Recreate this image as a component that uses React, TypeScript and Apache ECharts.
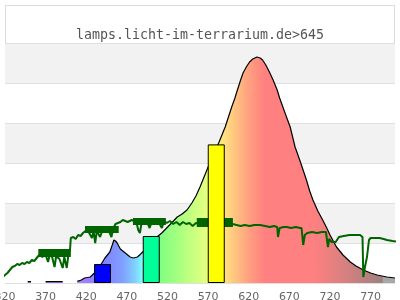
import React, { useEffect, useRef } from "react";
import * as echarts from "echarts";

const TITLE = "lamps.licht-im-terrarium.de>645";

// Lamp spectrum curve (wavelength nm, relative value; null = no line)
const curveNm = [346, 348, 352, 354, 368, 370, 380, 391, 393, 407, 409, 414, 418, 425, 430, 437, 443, 449, 452, 454, 456, 458, 462, 468, 474, 478, 483, 487, 492, 499, 507, 513, 519, 525, 532, 538, 544, 550, 555, 560, 566, 572, 577, 583, 587, 591, 595, 599, 603, 606, 610, 613, 617, 621, 625, 630, 634, 637, 641, 646, 650, 655, 658, 662, 666, 671, 674, 677, 684, 691, 695, 699, 705, 711, 716, 720, 724, 728, 736, 745, 752, 761, 770, 778, 790, 800];
const curveVal: (number | null)[] = [null, 0.7, 0.7, null, null, 0.7, 0.7, 0.7, null, null, 0.8, 1.5, 2.5, 3, 5, 8.5, 12.5, 15.5, 19, 21.5, 21, 20, 17, 15, 13, 12.5, 13, 14.5, 16.5, 20, 23, 25, 27.5, 30, 33, 34.5, 36.5, 40, 43.5, 48, 54, 60, 65, 70, 74, 78, 83, 88, 92.5, 96.5, 101.5, 105, 108, 110.5, 112, 113, 112.5, 111.5, 109, 105, 101.5, 96.5, 92.5, 88, 83.5, 78, 73, 68, 60, 51.5, 46, 41.5, 36, 31.5, 27.5, 24, 21, 18, 14, 10.5, 8.5, 6.5, 5, 4, 3, 2.5];

// Measured spectrum (dark green line)
const measNm = [316, 320, 323, 326, 329, 332, 335, 338, 341, 344, 347, 350, 353, 356, 359, 362, 366, 370, 373, 375, 378, 381, 383, 387, 391, 393, 396, 398, 400, 401, 404, 407, 410, 413, 416, 419, 423, 427, 429, 431, 433, 437, 440, 444, 448, 451, 453, 456, 459, 462, 465, 471, 476, 479, 482, 484, 486, 488, 492, 495, 498, 501, 505, 509, 513, 516, 519, 523, 527, 531, 535, 539, 543, 547, 551, 555, 560, 565, 570, 575, 580, 585, 590, 595, 600, 605, 610, 615, 621, 627, 634, 640, 646, 651, 655, 656, 658, 663, 667, 672, 678, 683, 685, 687, 689, 692, 698, 704, 710, 715, 717.5, 719, 722, 727, 731, 737, 744, 750, 757, 760, 761, 763, 765.5, 768, 770, 775, 781, 786, 790, 797, 806];
const measVal = [2.5, 4, 5, 6.5, 8, 8.5, 9.5, 9, 10, 9.5, 10.5, 10, 11.5, 11, 12.5, 14, 13, 14, 10.5, 14, 13, 8, 13.5, 12, 7.5, 13, 7.5, 14, 16.5, 22.5, 23, 22, 24, 23.5, 25, 26, 25.5, 22.5, 26, 20, 26, 23, 26.5, 27, 26, 23, 27, 29.5, 30, 30.5, 31.5, 30.5, 31.5, 31, 30, 26.5, 25, 30, 31, 30.5, 27.5, 31, 31.5, 30.5, 27.5, 31, 30, 31, 29.5, 30.5, 29, 30.5, 29.5, 30, 28.5, 30, 29.5, 31, 30, 29, 30.5, 29.5, 30, 29, 29.5, 29, 28.5, 29, 28.5, 29, 29, 28.5, 28, 28.5, 28, 23, 27.5, 28, 28, 27.5, 28, 27.5, 27.5, 19, 24, 25, 25.5, 25, 25.5, 25.5, 18, 22, 20.5, 20.5, 23, 23.5, 24, 24, 24, 23, 3, 8, 13, 21.5, 22.5, 22.5, 22.5, 22, 21.5, 21, 20.5];

// Dense-noise blocks on the measured line: [nmStart, nmEnd, low, high]
const blockStart = [361, 418.5, 477.5, 556];
const blockEnd = [401, 460, 518, 600.5];
const blockLow = [13, 25, 29, 28];
const blockHigh = [17, 28.5, 32.5, 32.5];

// Colour bars
const barNm = [440, 500, 580];
const barVal = [9.5, 23.5, 69.3];
const barColors = ["#0000ff", "#00ff99", "#ffff00"];

// Spectral gradient stops (nm -> colour)
const gradNm = [320, 400, 420, 440, 465, 480, 490, 500, 510, 530, 560, 575, 590, 605, 620, 640, 700, 730, 765, 784, 786, 800];
const gradCol = ["#b080ff", "#b080ff", "#a080ff", "#8080ff", "#80a0ff", "#80d0ff", "#80ffff", "#80ffc0", "#80ff80", "#a0ff80", "#d8ff80", "#f0ff80", "#ffe080", "#ffc080", "#ffa080", "#ff8080", "#ff8080", "#e08080", "#b88080", "#a08080", "#a8a8a8", "#a8a8a8"];

const X_MIN = 320;
const X_MAX = 800;

export default function App() {
  const ref = useRef<HTMLDivElement>(null);
  useEffect(() => {
    if (!ref.current) return;
    const chart = echarts.init(ref.current, undefined, { renderer: "svg" });
    const gridLeft = 5;
    const gridRight = 5;
    const plotW = 400 - gridLeft - gridRight;
    const stops = gradNm.map((n, i) => ({ offset: (n - X_MIN) / (X_MAX - X_MIN), color: gradCol[i] }));
    const gradient = new echarts.graphic.LinearGradient(gridLeft, 0, gridLeft + plotW, 0, stops, true);

    const curveData = curveNm.map((n, i) => [n, curveVal[i] === null ? "-" : curveVal[i]]);
    const measData = measNm.map((n, i) => [n, measVal[i]]);
    const blockData = blockStart.map((s, i) => [s, blockEnd[i], blockLow[i], blockHigh[i]]);
    const barData = barNm.map((n, i) => ({
      value: [n, barVal[i]],
      itemStyle: { color: barColors[i], borderColor: "#000", borderWidth: 1 },
    }));

    chart.setOption({
      animation: false,
      title: {
        text: TITLE,
        left: "center",
        top: 23,
        textStyle: {
          fontFamily: "DejaVu Sans Mono",
          fontSize: 13.3,
          fontWeight: "normal",
          color: "#555",
        },
      },
      graphic: [
        {
          type: "rect",
          shape: { x: 5.5, y: 5.5, width: 389, height: 277.5 },
          style: { fill: "none", stroke: "#dcdcdc", lineWidth: 1 },
          z: 0,
          silent: true,
        },
      ],
      grid: {
        left: gridLeft,
        right: gridRight,
        top: 43,
        bottom: 17,
        containLabel: false,
        outerBoundsMode: "none",
      },
      xAxis: {
        type: "value",
        min: X_MIN,
        max: X_MAX,
        interval: 50,
        axisLine: { show: false },
        axisTick: { show: false },
        splitLine: { show: false },
        axisLabel: {
          showMaxLabel: false,
          hideOverlap: false,
          color: "#666",
          fontSize: 11,
          fontFamily: "DejaVu Sans",
          margin: 8,
        },
      },
      yAxis: {
        type: "value",
        min: 0,
        max: 120,
        interval: 20,
        axisLabel: { show: false },
        axisLine: { show: false },
        axisTick: { show: false },
        splitLine: { show: true, lineStyle: { color: "#e0e0e0", width: 1 } },
        splitArea: { show: true, areaStyle: { color: ["#ffffff", "#f2f2f2"] } },
      },
      series: [
        {
          type: "line",
          name: "lamp",
          data: curveData,
          symbol: "none",
          connectNulls: false,
          lineStyle: { color: "#000", width: 1.2 },
          areaStyle: { color: gradient, opacity: 1 },
          z: 1,
        },
        {
          type: "custom",
          name: "blocks",
          data: blockData,
          encode: { x: [0, 1], y: [2, 3] },
          z: 2,
          renderItem: (params: any, api: any) => {
            const p1 = api.coord([api.value(0), api.value(3)]);
            const p2 = api.coord([api.value(1), api.value(2)]);
            return {
              type: "rect",
              shape: { x: p1[0], y: p1[1], width: p2[0] - p1[0], height: p2[1] - p1[1] },
              style: { fill: "#006400" },
            };
          },
        },
        {
          type: "line",
          name: "measured",
          data: measData,
          symbol: "none",
          clip: false,
          lineStyle: { color: "#006400", width: 2 },
          z: 3,
        },
        {
          type: "bar",
          name: "bars",
          data: barData,
          barWidth: 17,
          z: 4,
        },
      ],
    });
    return () => chart.dispose();
  }, []);
  return (
    <div
      ref={ref}
      style={{ position: "fixed", left: 0, top: 0, width: 400, height: 300 }}
    />
  );
}
